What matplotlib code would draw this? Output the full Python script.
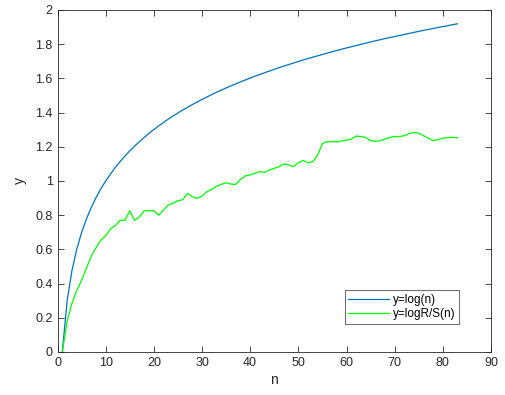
import numpy as np
import matplotlib
matplotlib.use("Agg")
import matplotlib.pyplot as plt

n = list(range(1, 84))
y_log = [0.000, 0.301, 0.477, 0.602, 0.699, 0.778, 0.845, 0.903, 0.954, 1.000,
         1.041, 1.079, 1.114, 1.146, 1.176, 1.204, 1.230, 1.255, 1.279, 1.301,
         1.322, 1.342, 1.362, 1.380, 1.398, 1.415, 1.431, 1.447, 1.462, 1.477,
         1.491, 1.505, 1.519, 1.531, 1.544, 1.556, 1.568, 1.580, 1.591, 1.602,
         1.613, 1.623, 1.633, 1.643, 1.653, 1.663, 1.672, 1.681, 1.690, 1.699,
         1.708, 1.716, 1.724, 1.732, 1.740, 1.748, 1.756, 1.763, 1.771, 1.778,
         1.785, 1.792, 1.799, 1.806, 1.813, 1.820, 1.826, 1.833, 1.839, 1.845,
         1.851, 1.857, 1.863, 1.869, 1.875, 1.881, 1.886, 1.892, 1.898, 1.903,
         1.908, 1.914, 1.919]
y_rs = [0.000, 0.180, 0.285, 0.360, 0.420, 0.490, 0.560, 0.610, 0.655, 0.680,
        0.720, 0.740, 0.770, 0.770, 0.826, 0.770, 0.790, 0.826, 0.826, 0.826,
        0.800, 0.830, 0.860, 0.870, 0.885, 0.890, 0.928, 0.908, 0.899, 0.912,
        0.937, 0.950, 0.970, 0.980, 0.990, 0.982, 0.980, 1.010, 1.030, 1.035,
        1.045, 1.055, 1.050, 1.064, 1.074, 1.084, 1.100, 1.094, 1.084, 1.107,
        1.120, 1.107, 1.113, 1.152, 1.220, 1.230, 1.230, 1.228, 1.234, 1.240,
        1.245, 1.263, 1.260, 1.255, 1.235, 1.232, 1.236, 1.245, 1.255, 1.260,
        1.260, 1.265, 1.278, 1.283, 1.280, 1.265, 1.250, 1.236, 1.243, 1.250,
        1.253, 1.255, 1.253]

xticks = list(range(0, 91, 10))
yticks = [0, 0.2, 0.4, 0.6, 0.8, 1, 1.2, 1.4, 1.6, 1.8, 2]
ytick_labels = ['0', '0.2', '0.4', '0.6', '0.8', '1', '1.2', '1.4', '1.6', '1.8', '2']

plt.rcParams['font.family'] = ['Liberation Sans', 'DejaVu Sans']
fig = plt.figure(figsize=(5.05, 3.95), dpi=100)
ax = fig.add_axes([0.1139, 0.1089, 0.8584, 0.8658])

ax.plot(n, y_log, color='#0072BD', lw=0.9, label='y=log(n)')
ax.plot(n, y_rs, color='#00FF00', lw=0.9, label='y=logR/S(n)')

ax.set_xlim(0, 90)
ax.set_ylim(0, 2)
ax.set_xticks(xticks)
ax.set_yticks(yticks)
ax.set_yticklabels(ytick_labels)
ax.tick_params(direction='in', length=4, width=0.6, colors='#262626',
               labelsize=9, top=True, right=True, labeltop=False, labelright=False)
for s in ax.spines.values():
    s.set_color('#262626')
    s.set_linewidth(0.6)
ax.set_xlabel('n', fontsize=10, color='#262626', labelpad=3)
ax.set_ylabel('y', fontsize=10, color='#262626', labelpad=6)

leg = ax.legend(loc='lower left', bbox_to_anchor=(0.663, 0.082), fontsize=8.5,
                frameon=True, fancybox=False, edgecolor='#262626',
                handlelength=3.4, borderpad=0.3, labelspacing=0.2,
                handletextpad=0.4, borderaxespad=0)
leg.get_frame().set_linewidth(0.6)

fig.savefig('out.png', dpi=100)
